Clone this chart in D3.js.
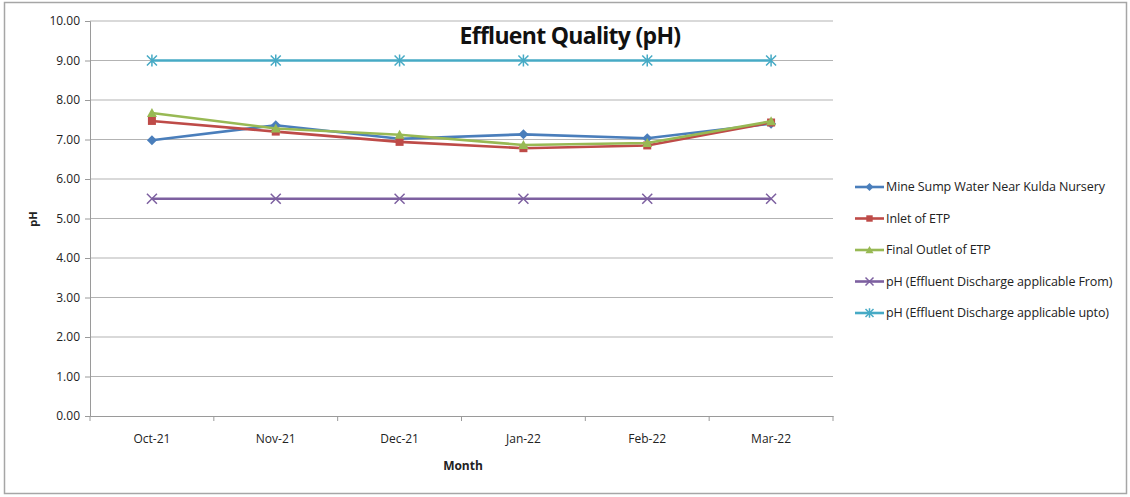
<!DOCTYPE html>
<html><head><meta charset="utf-8">
<script src="https://cdn.jsdelivr.net/npm/d3@7/dist/d3.min.js"></script>
<style>body{margin:0;background:#fff}svg{display:block}text{font-family:"Open Sans","DejaVu Sans",sans-serif}</style>
</head><body><svg id="c" width="1130" height="497"></svg>
<script>
const months = ["Oct-21","Nov-21","Dec-21","Jan-22","Feb-22","Mar-22"];
const yTicks = [0,1,2,3,4,5,6,7,8,9,10];
const mineSump = [6.98,7.36,7.02,7.13,7.03,7.40];
const inletETP = [7.47,7.20,6.94,6.78,6.85,7.43];
const finalOutlet = [7.67,7.28,7.12,6.86,6.91,7.46];
const phFrom = [5.5,5.5,5.5,5.5,5.5,5.5];
const phUpto = [9.0,9.0,9.0,9.0,9.0,9.0];
const seriesNames = ["Mine Sump Water Near Kulda Nursery","Inlet of ETP","Final Outlet of ETP","pH (Effluent Discharge applicable From)","pH (Effluent Discharge applicable upto)"];

const series = [
 {name:seriesNames[0], values:mineSump, color:"#4a7ebb", marker:"diamond"},
 {name:seriesNames[1], values:inletETP, color:"#be4b48", marker:"square"},
 {name:seriesNames[2], values:finalOutlet, color:"#98b954", marker:"triangle"},
 {name:seriesNames[3], values:phFrom, color:"#7d60a0", marker:"x"},
 {name:seriesNames[4], values:phUpto, color:"#46aac5", marker:"star"}
];

const svg = d3.select("#c");
svg.append("rect").attr("x",4.5).attr("y",2.5).attr("width",1122).attr("height",491)
  .attr("fill","#fff").attr("stroke","#a6a6a6").attr("stroke-width",1.5);

const L=90, R=833, T=21, B=416;
const x = d3.scaleBand().domain(months).range([L,R]);
const y = d3.scaleLinear().domain([0,10]).range([B,T]);

// grid
svg.append("g").selectAll("line").data(yTicks.slice(1)).join("line")
  .attr("x1",L).attr("x2",R).attr("y1",d=>y(d)).attr("y2",d=>y(d))
  .attr("stroke","#b3b3b3").attr("stroke-width",1);

// y axis
const ya = svg.append("g").attr("transform",`translate(${L},0)`)
  .call(d3.axisLeft(y).tickValues(yTicks).tickFormat(d3.format(".2f")).tickSize(5).tickPadding(5));
ya.select(".domain").attr("stroke","#9a9a9a");
ya.selectAll(".tick line").attr("stroke","#9a9a9a");
ya.selectAll("text").attr("font-size",12).attr("fill","#222");

// x axis
const xa = svg.append("g").attr("transform",`translate(0,${B})`)
  .call(d3.axisBottom(x).tickSize(0).tickPadding(18));
xa.select(".domain").attr("stroke","#9a9a9a");
xa.selectAll("text").attr("font-size",12).attr("fill","#222");
svg.append("g").selectAll("line").data(d3.range(months.length+1)).join("line")
  .attr("x1",i=>L+i*x.step()).attr("x2",i=>L+i*x.step()).attr("y1",B).attr("y2",B+5)
  .attr("stroke","#9a9a9a");

// titles
svg.append("text").attr("x",570).attr("y",44).attr("text-anchor","middle")
  .attr("font-size",23).attr("font-weight",700).attr("fill","#111").attr("letter-spacing",-0.7).text("Effluent Quality (pH)");
svg.append("text").attr("x",463).attr("y",470).attr("text-anchor","middle")
  .attr("font-size",12).attr("font-weight",700).attr("fill","#222").text("Month");
svg.append("text").attr("transform","translate(37,219) rotate(-90)").attr("text-anchor","middle")
  .attr("font-size",11).attr("font-weight",700).attr("fill","#222").text("pH");

function marker(g, type, color, cx, cy, s){
  if(type==="diamond") g.append("path").attr("d",`M${cx},${cy-s}L${cx+s},${cy}L${cx},${cy+s}L${cx-s},${cy}Z`).attr("fill",color);
  else if(type==="square") g.append("rect").attr("x",cx-s*0.8).attr("y",cy-s*0.8).attr("width",s*1.6).attr("height",s*1.6).attr("fill",color);
  else if(type==="triangle") g.append("path").attr("d",`M${cx},${cy-s}L${cx+s},${cy+s*0.8}L${cx-s},${cy+s*0.8}Z`).attr("fill",color);
  else if(type==="x") g.append("path").attr("d",`M${cx-s},${cy-s}L${cx+s},${cy+s}M${cx-s},${cy+s}L${cx+s},${cy-s}`).attr("stroke",color).attr("stroke-width",1.5);
  else if(type==="star") g.append("path").attr("d",`M${cx-s},${cy-s}L${cx+s},${cy+s}M${cx-s},${cy+s}L${cx+s},${cy-s}M${cx},${cy-s*1.2}L${cx},${cy+s*1.2}`).attr("stroke",color).attr("stroke-width",1.5);
}

const line = d3.line().x((d,i)=>x(months[i])+x.bandwidth()/2).y(d=>y(d));
const order = [4,3,0,1,2];
order.forEach(k=>{
  const s = series[k];
  const g = svg.append("g");
  g.append("path").datum(s.values).attr("d",line).attr("fill","none").attr("stroke",s.color).attr("stroke-width",2.6);
  s.values.forEach((v,i)=>marker(g,s.marker,s.color,x(months[i])+x.bandwidth()/2,y(v),5));
});

// legend
const lg = svg.append("g");
series.forEach((s,i)=>{
  const yy = 187 + i*31.5;
  lg.append("line").attr("x1",855).attr("x2",884).attr("y1",yy).attr("y2",yy).attr("stroke",s.color).attr("stroke-width",2.6);
  marker(lg,s.marker,s.color,869.5,yy,4);
  lg.append("text").attr("x",886).attr("y",yy+4).attr("font-size",12.5).attr("fill","#222").attr("letter-spacing",-0.1).text(s.name);
});
</script></body></html>
